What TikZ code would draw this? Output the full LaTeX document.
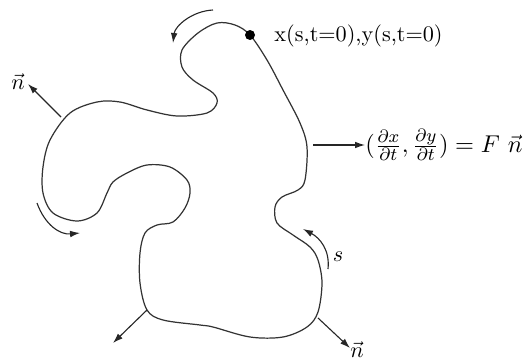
\documentclass[tikz,border=0pt]{standalone}
\usetikzlibrary{arrows.meta}
\begin{document}
\begin{tikzpicture}[x=0.45pt,y=-0.45pt,
  curve/.style={line width=0.55pt,draw=black!80},
  arr/.style={line width=0.5pt,draw=black!85,-{Latex[length=4.5pt,width=3pt]}},
  lbl/.style={inner sep=0pt,font=\fontsize{10}{12}\selectfont}]
\useasboundingbox (0,0) rectangle (528,362);
\draw[curve] plot[smooth cycle,tension=0.55] coordinates{
 (250,35) (235,25) (217,23) (198,33) (182,50) (182,67) (193,80) (213,93) (217,103) (207,113)
 (177,116) (147,110) (120,102) (97,102) (70,113) (50,140) (43,167) (43,193) (53,213) (77,221)
 (97,213) (107,193) (113,182) (127,173) (147,165) (170,167) (187,180) (190,193) (185,208)
 (173,222) (157,225) (145,233) (140,253) (140,283) (147,310) (163,320) (200,325) (213,327)
 (250,337) (283,337) (307,327) (318,312) (322,283) (318,260) (310,247) (293,235) (277,223)
 (275,207) (282,197) (298,190) (305,180) (307,147) (300,123) (283,90) (267,60)};
\node[circle,fill=black,inner sep=0pt,minimum size=4.5pt] (dot) at (250,35) {};
\node[lbl,anchor=west] (xy) at (274,36) {x(s,t=0),y(s,t=0)};
% top curved arrow
\coordinate (ta) at (213,10);
\coordinate (tb) at (173,43);
\draw[arr] (ta) .. controls (192,11) and (175,26) .. (tb);
% left bottom curved arrow
\coordinate (la) at (37,203);
\coordinate (lb) at (80,233);
\draw[arr] (la) .. controls (45,225) and (60,235) .. (lb);
% s arrow
\coordinate (sa) at (328,269);
\coordinate (sb) at (303,229);
\draw[arr] (sa) .. controls (330,250) and (320,238) .. (sb);
\node[lbl] (s) at (338,257) {$s$};
% normals
\coordinate (n1a) at (61,117);
\node[lbl] (n1) at (18,82) {$\vec n$};
\draw[arr] (n1a) -- (28,84) coordinate (n1b);
\coordinate (n2a) at (147,310);
\coordinate (n2b) at (113,343);
\draw[arr] (n2a) -- (n2b);
\coordinate (n3a) at (318,318);
\coordinate (n3b) at (350,348);
\draw[arr] (n3a) -- (n3b);
\node[lbl] (n3) at (357,350) {$\vec n$};
% velocity arrow
\coordinate (va) at (313,145);
\node[lbl,anchor=west,font=\fontsize{11}{13}\selectfont] (vel) at (365,145) {$(\frac{\partial x}{\partial t},\frac{\partial y}{\partial t})=F\ \vec n$};
\draw[arr] (va) -- (vel.west);
\end{tikzpicture}
\end{document}
